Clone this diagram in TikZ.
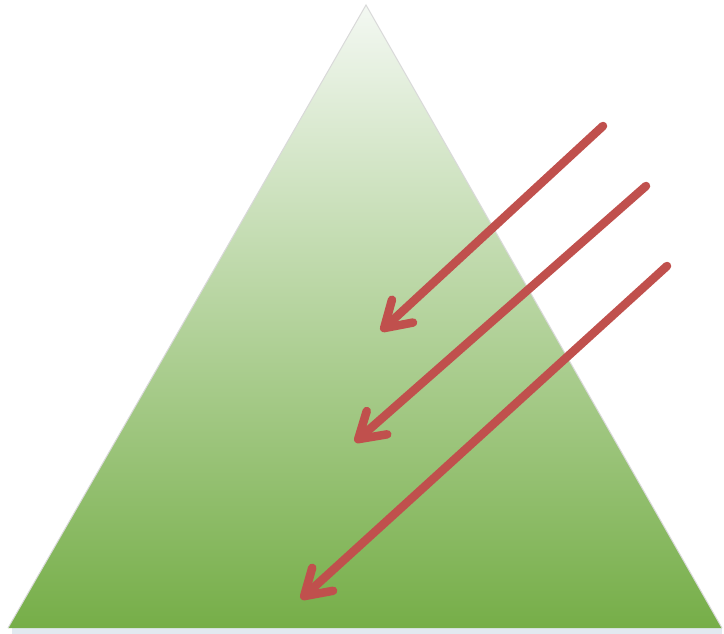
\documentclass[tikz,border=0pt]{standalone}
\usepackage{tikz}
\usetikzlibrary{arrows.meta}
\definecolor{leafgreen}{RGB}{118,174,72}
\definecolor{palegreen}{RGB}{190,220,170}
\definecolor{mistgreen}{RGB}{243,248,242}
\definecolor{rayred}{RGB}{192,80,77}
\definecolor{baseshadow}{RGB}{226,233,240}
\begin{document}
\begin{tikzpicture}[x=1bp,y=-1bp,
  ray/.style={rayred,line width=8.5bp,line cap=round,
    -{Straight Barb[length=25bp,width=31bp,round]}}]
  \useasboundingbox (0,0) rectangle (724,634);
  \coordinate (apex) at (366,5);
  \coordinate (baseL) at (8,628);
  \coordinate (baseR) at (722,628);
  % shadow under the base
  \fill[baseshadow] (12,628) rectangle (722,634);
  \shade[top color=mistgreen,middle color=palegreen,bottom color=leafgreen]
    (apex) -- (baseR) -- (baseL) -- cycle;
  \draw[black!15,line width=1bp] (baseL) -- (apex) -- (baseR);
  % rays
  \coordinate (ray1s) at (603,126); \coordinate (ray1e) at (381,331);
  \coordinate (ray2s) at (646,186); \coordinate (ray2e) at (355,442);
  \coordinate (ray3s) at (667,266); \coordinate (ray3e) at (301,599);
  \draw[ray] (ray1s) -- (ray1e);
  \draw[ray] (ray2s) -- (ray2e);
  \draw[ray] (ray3s) -- (ray3e);
\end{tikzpicture}
\end{document}
